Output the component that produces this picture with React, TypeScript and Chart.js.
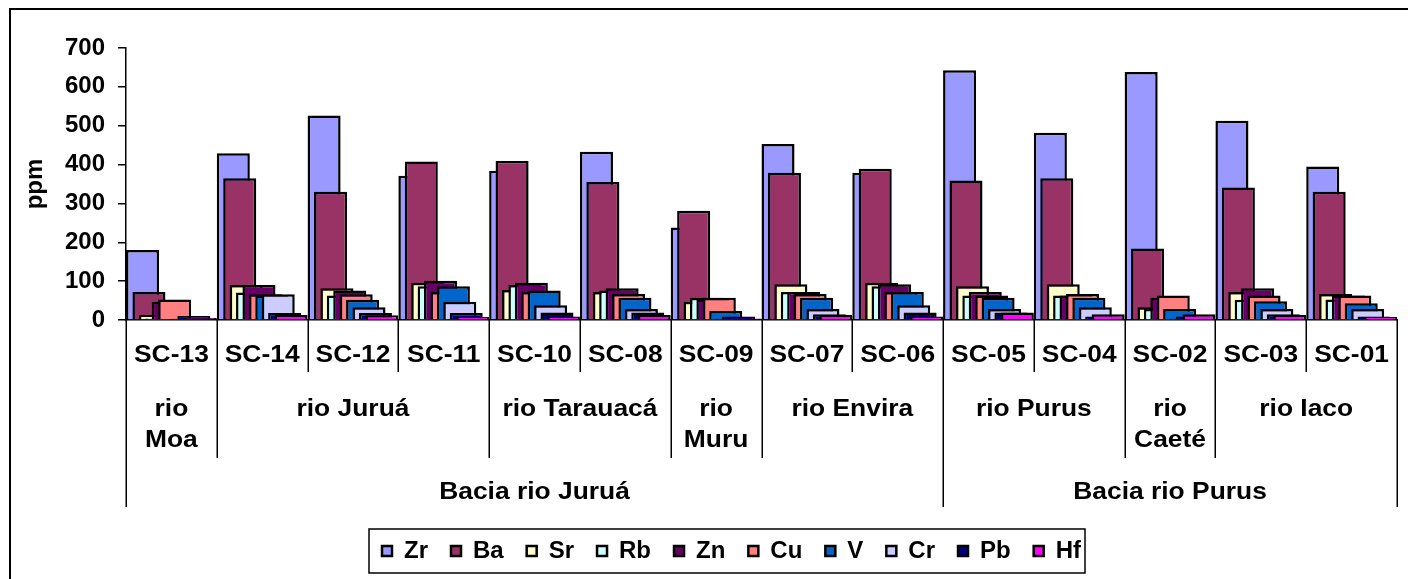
import React, { useEffect, useRef } from 'react';
import { Chart, registerables } from 'chart.js';

Chart.register(...registerables);

// ---------- data ----------
const samples = ['SC-13', 'SC-14', 'SC-12', 'SC-11', 'SC-10', 'SC-08', 'SC-09', 'SC-07', 'SC-06', 'SC-05', 'SC-04', 'SC-02', 'SC-03', 'SC-01'];
const riverNames = ['rio Moa', 'rio Juruá', 'rio Tarauacá', 'rio Muru', 'rio Envira', 'rio Purus', 'rio Caeté', 'rio Iaco'];
const riverSpans = [1, 3, 2, 1, 2, 2, 1, 2];
const basinNames = ['Bacia rio Juruá', 'Bacia rio Purus'];
const basinSpans = [9, 5];

const elements = ['Zr', 'Ba', 'Sr', 'Rb', 'Zn', 'Cu', 'V', 'Cr', 'Pb', 'Hf'];
const colors = ['#9999FF', '#993366', '#FFFFCC', '#CCFFFF', '#660066', '#FF8080', '#0066CC', '#CCCCFF', '#000080', '#FF00FF'];

const Zr = [180, 429, 526, 371, 384, 433, 238, 453, 379, 643, 482, 638, 513, 395];
const Ba = [72, 365, 330, 408, 409, 355, 281, 379, 389, 359, 365, 184, 341, 330];
const Sr = [13, 90, 82, 96, 77, 72, 47, 92, 96, 87, 92, 33, 72, 67];
const Rb = [4, 71, 63, 87, 90, 76, 57, 72, 87, 63, 63, 28, 52, 53];
const Zn = [47, 90, 76, 101, 96, 82, 53, 72, 92, 72, 63, 57, 82, 63];
const Cu = [53, 66, 66, 72, 72, 67, 57, 67, 72, 63, 67, 63, 63, 63];
const V = [2, 63, 52, 87, 76, 57, 23, 57, 72, 57, 57, 28, 48, 43];
const Cr = [3, 66, 33, 47, 38, 28, 3, 28, 38, 28, 33, 3, 28, 28];
const Pb = [10, 18, 18, 18, 19, 19, 9, 15, 19, 19, 9, 9, 15, 9];
const Hf = [5, 13, 12, 8, 9, 13, 4, 13, 9, 19, 15, 15, 13, 8];
const seriesValues = [Zr, Ba, Sr, Rb, Zn, Cu, V, Cr, Pb, Hf];

const yMin = 0;
const yMax = 700;
const yStep = 100;
const yTitle = 'ppm';

// ---------- layout / style ----------
const FONT_FAMILY = '"Liberation Sans", Arial, Helvetica, sans-serif';
const AXIS_FONT = 24;
const TEXT_STRETCH = 1.1;
const LEGEND_FONT = 24;
const LEGEND_PAD = 23;
const PAD = { left: 10, right: 11, top: 48, bottom: 6 };
const Y_AXIS_W = 116;
const PLOT_BOTTOM = 320;
const CANVAS_W = 1408;
const CANVAS_H = 579;
const X_AXIS_H = CANVAS_H - PAD.bottom - (LEGEND_FONT + LEGEND_PAD + 10) - PLOT_BOTTOM;
const LEGEND_START = 382;

const BAR_W = 0.364; // fraction of category
const STEP = (1 - BAR_W) / (elements.length - 1);

const ROW1_Y = 35, ROW1_END = 52;
const ROW2_Y = 89, ROW2_LH = 31, ROW2_END = 138;
const ROW3_Y = 172, ROW3_END = 187;

function cumulative(spans: number[]) {
  const out: number[] = [];
  let s = 0;
  for (const v of spans) { out.push(s); s += v; }
  return out;
}

function wrapText(ctx: CanvasRenderingContext2D, text: string, maxW: number) {
  const words = text.split(' ');
  const lines: string[] = [];
  let cur = '';
  for (const w of words) {
    const t = cur ? cur + ' ' + w : w;
    if (cur && ctx.measureText(t).width * TEXT_STRETCH > maxW) { lines.push(cur); cur = w; } else { cur = t; }
  }
  if (cur) lines.push(cur);
  return lines;
}

function stretchedText(ctx: CanvasRenderingContext2D, text: string, x: number, y: number) {
  ctx.save();
  ctx.translate(x, y);
  ctx.scale(TEXT_STRETCH, 1);
  ctx.fillText(text, 0, 0);
  ctx.restore();
}

const axisLabelsPlugin = {
  id: 'multiLevelAxis',
  afterLayout(chart: any) {
    const lg = chart.legend;
    if (!lg || !lg.lineWidths) return;
    const p = lg.options.labels.padding;
    const start = (lg.left + p + lg.right - lg.lineWidths[0]) / 2;
    const dx = LEGEND_START - start;
    lg.left += dx;
    lg.right += dx;
  },
  afterDraw(chart: any) {
    const ctx: CanvasRenderingContext2D = chart.ctx;
    const xs = chart.scales.x;
    const bottom = chart.chartArea.bottom;
    const n = samples.length;
    const riverStarts = cumulative(riverSpans);
    const basinStarts = cumulative(basinSpans);
    ctx.save();
    // outer frame
    ctx.strokeStyle = '#000';
    ctx.lineWidth = 2;
    ctx.strokeRect(10, 9, CANVAS_W + 20, CANVAS_H + 20);
    // separators
    ctx.lineWidth = 1.5;
    for (let i = 0; i <= n; i++) {
      const x = Math.round(xs.getPixelForValue(i)) + 0.25;
      let end = ROW1_END;
      if (i === 0 || i === n || basinStarts.includes(i)) end = ROW3_END;
      else if (riverStarts.includes(i)) end = ROW2_END;
      ctx.beginPath();
      ctx.moveTo(x, bottom);
      ctx.lineTo(x, bottom + end);
      ctx.stroke();
    }
    // texts
    ctx.fillStyle = '#000';
    ctx.font = `bold ${AXIS_FONT}px ${FONT_FAMILY}`;
    ctx.textAlign = 'center';
    ctx.textBaseline = 'middle';
    samples.forEach((s, i) => {
      stretchedText(ctx, s, xs.getPixelForValue(i + 0.5), bottom + ROW1_Y);
    });
    riverNames.forEach((name, k) => {
      const a = xs.getPixelForValue(riverStarts[k]);
      const b = xs.getPixelForValue(riverStarts[k] + riverSpans[k]);
      const lines = wrapText(ctx, name, b - a - 8);
      lines.forEach((ln, j) => stretchedText(ctx, ln, (a + b) / 2, bottom + ROW2_Y + j * ROW2_LH));
    });
    basinNames.forEach((name, k) => {
      const a = xs.getPixelForValue(basinStarts[k]);
      const b = xs.getPixelForValue(basinStarts[k] + basinSpans[k]);
      stretchedText(ctx, name, (a + b) / 2, bottom + ROW3_Y);
    });
    // legend frame
    const lg = chart.legend;
    if (lg && lg.legendHitBoxes && lg.legendHitBoxes.length) {
      const hb = lg.legendHitBoxes;
      const first = hb[0];
      const last = hb[hb.length - 1];
      const cy = first.top + first.height / 2;
      ctx.lineWidth = 1.5;
      ctx.strokeRect(first.left - 13, cy - 22, last.left + last.width + 4 - (first.left - 13), 44);
    }
    ctx.restore();
  },
};

export default function App() {
  const ref = useRef<HTMLCanvasElement>(null);
  useEffect(() => {
    const datasets = elements.map((name, k) => ({
      label: name,
      data: seriesValues[k].map((v, i) => ({ x: i + BAR_W / 2 + k * STEP, y: v })),
      backgroundColor: colors[k],
      borderColor: '#000',
      borderWidth: 2.5,
      order: elements.length - k,
      grouped: false,
      categoryPercentage: 1,
      barPercentage: BAR_W / STEP,
    }));
    const chart = new Chart(ref.current as HTMLCanvasElement, {
      type: 'bar',
      data: { datasets } as any,
      plugins: [axisLabelsPlugin],
      options: {
        animation: false,
        responsive: false,
        devicePixelRatio: 1,
        layout: { padding: PAD },
        plugins: {
          tooltip: { enabled: false },
          legend: {
            position: 'bottom',
            labels: {
              boxWidth: 10,
              boxHeight: 10,
              padding: LEGEND_PAD,
              color: '#000',
              font: { family: FONT_FAMILY, size: LEGEND_FONT, weight: 'bold' },
              sort: (a: any, b: any) => a.datasetIndex - b.datasetIndex,
            },
          },
        },
        scales: {
          x: {
            type: 'linear',
            min: 0,
            max: samples.length,
            offset: false,
            grid: { display: false, offset: false },
            ticks: { display: false },
            border: { display: true, color: '#000', width: 1.5 },
            afterFit: (s: any) => { s.height = X_AXIS_H; },
          },
          y: {
            min: yMin,
            max: yMax,
            ticks: {
              stepSize: yStep,
              color: '#000',
              padding: 13,
              font: { family: FONT_FAMILY, size: AXIS_FONT, weight: 'bold' },
            },
            grid: { display: true, drawOnChartArea: false, drawTicks: true, tickLength: 8, color: '#000', lineWidth: 1.5 },
            border: { display: true, color: '#000', width: 1.5 },
            title: {
              display: true,
              text: yTitle,
              color: '#000',
              font: { family: FONT_FAMILY, size: AXIS_FONT, weight: 'bold' },
              padding: { top: 11, bottom: 0 },
            },
            afterFit: (s: any) => { s.width = Y_AXIS_W; },
          },
        },
      } as any,
    });
    return () => chart.destroy();
  }, []);
  return (
    <div style={{ position: 'absolute', left: 0, top: 0, width: CANVAS_W, height: CANVAS_H, background: '#fff' }}>
      <canvas ref={ref} width={CANVAS_W} height={CANVAS_H} style={{ display: 'block' }} />
    </div>
  );
}
